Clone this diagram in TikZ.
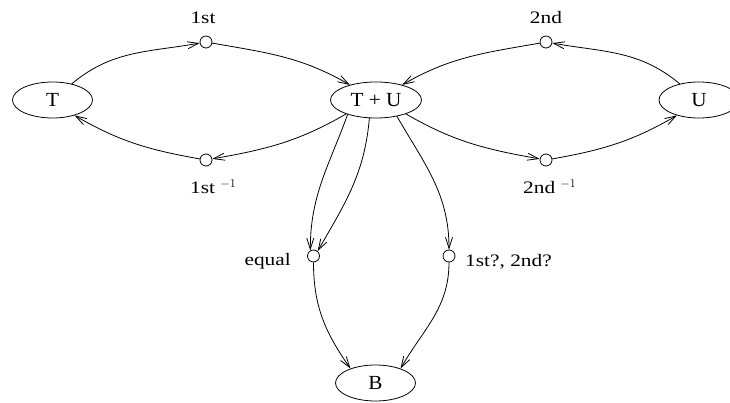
\documentclass[tikz,border=0pt]{standalone}
\usepackage{fontspec}
\setmainfont{Liberation Serif}
\newfontfamily\lblfont[FakeStretch=1.22]{Liberation Serif}
\newfontfamily\ndfont[FakeStretch=1.06]{Liberation Serif}
\usetikzlibrary{shapes.geometric,arrows.meta}
\begin{document}
\begin{tikzpicture}[x=1pt,y=1pt,
  state/.style={draw,ellipse,minimum width=80pt,minimum height=36pt,inner sep=0pt,line width=0.8pt,font=\ndfont\fontsize{20}{24}\selectfont},
  dot/.style={draw,circle,minimum size=12pt,inner sep=0pt,line width=0.8pt},
  lbl/.style={inner sep=0pt,font=\lblfont\fontsize{17.5}{21}\selectfont},
  arr/.style={line width=0.8pt,-{Straight Barb[length=11pt,width=7pt]}},
  ln/.style={line width=0.8pt}]
\useasboundingbox (0,0) rectangle (730,402);
\node[state] (T) at (52.5,302) {T};
\node[state,minimum width=91pt] (TU) at (376,302) {T + U};
\node[state] (U) at (699,302) {U};
\node[state] (B) at (375.5,19) {B};
\node[dot] (c1) at (206,360) {};
\node[dot] (c1i) at (206,242) {};
\node[dot] (c2) at (546,360) {};
\node[dot] (c2i) at (546,242) {};
\node[dot] (ce) at (313.5,146) {};
\node[dot] (cq) at (449,146) {};
\node[lbl,anchor=base] (l1) at (203,378) {1st};
\node[lbl,anchor=base west] (l1i) at (190,208) {1st~$^{-1}$};
\node[lbl,anchor=base] (l2) at (546,378) {2nd};
\node[lbl,anchor=base west] (l2i) at (523,208) {2nd~$^{-1}$};
\node[lbl,anchor=base east] (le) at (291,137) {equal};
\node[lbl,anchor=base west] (lq) at (465,136) {1st?, 2nd?};
\draw[arr] (T.40) to[out=40,in=190] (c1);
\draw[arr] (c1) to[out=-10,in=150] (TU.150);
\draw[arr] (TU.205) to[out=210,in=10] (c1i);
\draw[arr] (c1i) to[out=170,in=-30] (T.-35);
\draw[arr] (U.140) to[out=140,in=-10] (c2);
\draw[arr] (c2) to[out=190,in=30] (TU.30);
\draw[arr] (TU.-25) to[out=-30,in=170] (c2i);
\draw[arr] (c2i) to[out=10,in=210] (U.-145);
\draw[arr] (TU.207) to[out=-110,in=90] (ce.120);
\draw[arr] (TU.250) to[out=-95,in=60] (ce.50);
\draw[arr] (TU.-38) to[out=-60,in=90] (cq.north);
\draw[arr] (ce.south) to[out=-90,in=125] (B.150);
\draw[arr] (cq.south) to[out=-90,in=60] (B.30);
\end{tikzpicture}
\end{document}
